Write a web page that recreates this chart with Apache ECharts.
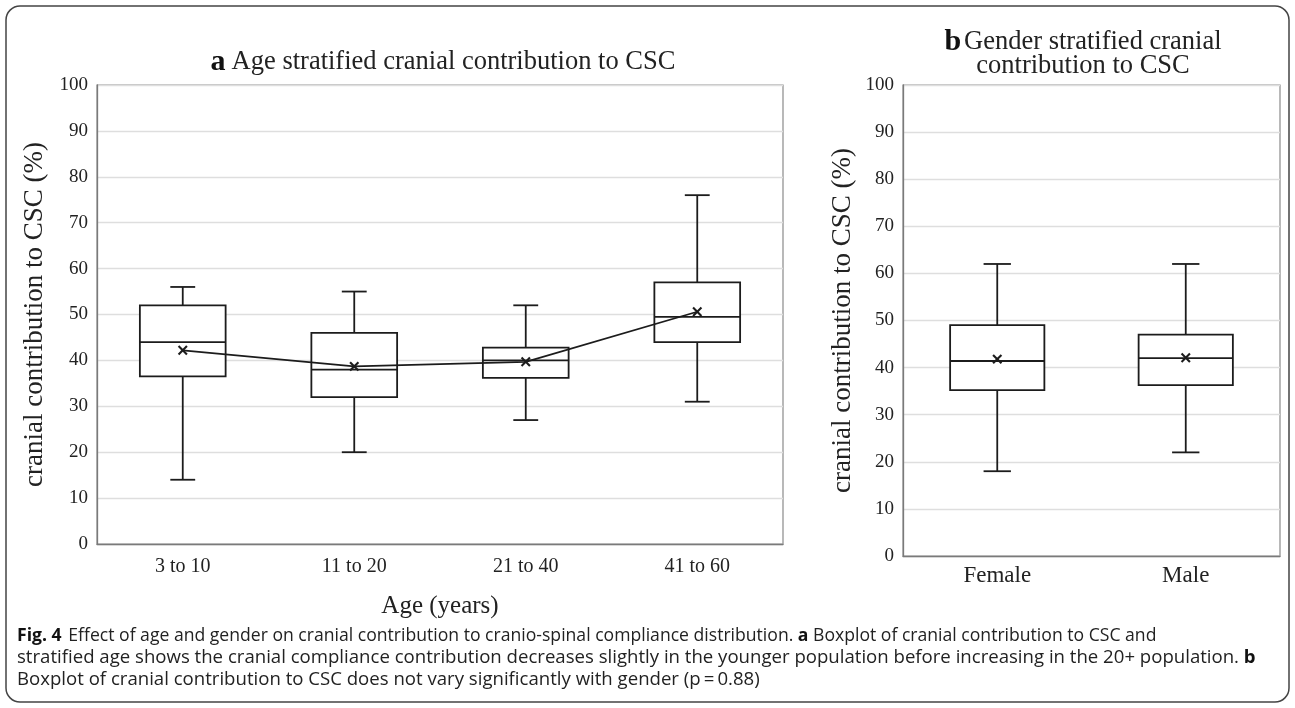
<!DOCTYPE html>
<html><head><meta charset="utf-8">
<script src="https://cdn.jsdelivr.net/npm/echarts@6/dist/echarts.min.js"></script>
<style>html,body{margin:0;padding:0;background:#fff}#c{width:1295px;height:708px}</style>
</head><body><div id="c"></div>
<script>
// ---- data ----
const ageCategories = ['3 to 10', '11 to 20', '21 to 40', '41 to 60'];
const ageMin    = [14, 20, 27, 31];
const ageQ1     = [36.5, 32, 36.2, 44];
const ageMedian = [44, 38, 40, 49.5];
const ageQ3     = [52, 46, 42.8, 57];
const ageMax    = [56, 55, 52, 76];
const ageMean   = [42.2, 38.7, 39.7, 50.6];

const genderCategories = ['Female', 'Male'];
const genderMin    = [18, 22];
const genderQ1     = [35.2, 36.3];
const genderMedian = [41.4, 42];
const genderQ3     = [49, 47];
const genderMax    = [62, 62];
const genderMean   = [41.8, 42.1];

const yMin = 0, yMax = 100, yStep = 10;

// ---- build ----
function rows(mins, q1, med, q3, max, mean) {
  return mins.map((v, i) => [i, v, q1[i], med[i], q3[i], max[i], mean[i]]);
}
const INK = '#1c1c1c';
function renderBox(params, api) {
  const x = api.value(0);
  const lo = api.coord([x, api.value(1)]);
  const q1 = api.coord([x, api.value(2)]);
  const md = api.coord([x, api.value(3)]);
  const q3 = api.coord([x, api.value(4)]);
  const hi = api.coord([x, api.value(5)]);
  const mn = api.coord([x, api.value(6)]);
  const band = api.size([1, 0])[0];
  const bw = band * 0.5, hw = bw / 2, cw = bw * 0.145;
  const cx = lo[0];
  const st = { stroke: INK, lineWidth: 1.8 };
  const ms = 4.2;
  return { type: 'group', children: [
    { type: 'line', shape: { x1: cx, y1: hi[1], x2: cx, y2: q3[1] }, style: st },
    { type: 'line', shape: { x1: cx, y1: q1[1], x2: cx, y2: lo[1] }, style: st },
    { type: 'line', shape: { x1: cx - cw, y1: hi[1], x2: cx + cw, y2: hi[1] }, style: st },
    { type: 'line', shape: { x1: cx - cw, y1: lo[1], x2: cx + cw, y2: lo[1] }, style: st },
    { type: 'rect', shape: { x: cx - hw, y: q3[1], width: bw, height: q1[1] - q3[1] }, style: { stroke: INK, lineWidth: 1.8, fill: '#fff' } },
    { type: 'line', shape: { x1: cx - hw, y1: md[1], x2: cx + hw, y2: md[1] }, style: st },
    { type: 'line', z2: 10, shape: { x1: mn[0] - ms, y1: mn[1] - ms, x2: mn[0] + ms, y2: mn[1] + ms }, style: { stroke: INK, lineWidth: 2.1 } },
    { type: 'line', z2: 10, shape: { x1: mn[0] - ms, y1: mn[1] + ms, x2: mn[0] + ms, y2: mn[1] - ms }, style: { stroke: INK, lineWidth: 2.1 } }
  ]};
}
const SERIF = '"Liberation Serif", "Times New Roman", serif';
const SANS = '"Open Sans", "Noto Sans", sans-serif';
function xAx(idx, data, fs, margin, name) {
  return {
    type: 'category', gridIndex: idx, data: data,
    axisLine: { show: true, lineStyle: { color: '#7a7a7a', width: 1.3 } },
    axisTick: { show: false },
    axisLabel: { fontFamily: SERIF, fontSize: fs, color: '#222', margin: margin },
    name: name, nameLocation: 'middle', nameGap: 50,
    nameTextStyle: { fontFamily: SERIF, fontSize: 25, color: '#222' }
  };
}
function yAx(idx, gap) {
  return {
    type: 'value', gridIndex: idx, min: yMin, max: yMax, interval: yStep,
    axisLine: { show: true, lineStyle: { color: '#7a7a7a', width: 1.3 } },
    axisTick: { show: false },
    splitLine: { lineStyle: { color: '#dedede', width: 1.3 } },
    axisLabel: { fontFamily: SERIF, fontSize: 19, color: '#222', margin: 9 },
    name: 'cranial contribution to CSC (%)', nameLocation: 'middle', nameGap: gap,
    nameTextStyle: { fontFamily: SERIF, fontSize: 27, color: '#222' }
  };
}
function capRich(fs) {
  return {
    b: { fontFamily: SANS, fontWeight: 'bold', fontSize: fs, fill: '#111' },
    n: { fontFamily: SANS, fontSize: fs, fill: '#222' }
  };
}
const chart = echarts.init(document.getElementById('c'));
chart.setOption({
  animation: false,
  backgroundColor: '#fff',
  grid: [
    { left: 97, top: 85, width: 686, height: 459, show: true, borderColor: '#8a8a8a', borderWidth: 1.2 },
    { left: 903, top: 85, width: 377, height: 471, show: true, borderColor: '#8a8a8a', borderWidth: 1.2 }
  ],
  xAxis: [ xAx(0, ageCategories, 20, 13, 'Age (years)'), xAx(1, genderCategories, 23, 8, '') ],
  yAxis: [ yAx(0, 41), yAx(1, 47) ],
  series: [
    { type: 'custom', xAxisIndex: 0, yAxisIndex: 0, renderItem: renderBox,
      encode: { x: 0, y: [1, 2, 3, 4, 5, 6] },
      data: rows(ageMin, ageQ1, ageMedian, ageQ3, ageMax, ageMean) },
    { type: 'line', xAxisIndex: 0, yAxisIndex: 0, z: 5, data: ageMean, symbol: 'none',
      lineStyle: { color: INK, width: 1.8 } },
    { type: 'custom', xAxisIndex: 1, yAxisIndex: 1, renderItem: renderBox,
      encode: { x: 0, y: [1, 2, 3, 4, 5, 6] },
      data: rows(genderMin, genderQ1, genderMedian, genderQ3, genderMax, genderMean) }
  ],
  graphic: [
    { type: 'rect', shape: { x: 6, y: 6, width: 1283, height: 696, r: 14 },
      style: { fill: 'none', stroke: '#444', lineWidth: 1.5 }, silent: true },
    { type: 'text', x: 443, y: 62, style: {
      text: '{b|a}{n|Age stratified cranial contribution to CSC}', align: 'center', verticalAlign: 'middle',
      rich: { b: { fontFamily: SERIF, fontWeight: 'bold', fontSize: 30, fill: '#111', padding: [0, 6, 0, 0] }, n: { fontFamily: SERIF, fontSize: 26.5, fill: '#222' } } } },
    { type: 'text', x: 1083, y: 42, style: {
      text: '{b|b}{n|Gender stratified cranial}', align: 'center', verticalAlign: 'middle',
      rich: { b: { fontFamily: SERIF, fontWeight: 'bold', fontSize: 30, fill: '#111', padding: [0, 3, 0, 0] }, n: { fontFamily: SERIF, fontSize: 26.5, fill: '#222' } } } },
    { type: 'text', x: 1083, y: 66, style: {
      text: 'contribution to CSC', align: 'center', verticalAlign: 'middle',
      font: '26.5px ' + SERIF, fill: '#222' } },
    { type: 'text', x: 17, y: 636, style: {
      text: '{b|Fig. 4}  {n|Effect of age and gender on cranial contribution to cranio-spinal compliance distribution. }{b|a}{n| Boxplot of cranial contribution to CSC and}',
      verticalAlign: 'middle', rich: capRich(17.6) } },
    { type: 'text', x: 17, y: 658, style: {
      text: '{n|stratified age shows the cranial compliance contribution decreases slightly in the younger population before increasing in the 20+ population. }{b|b}',
      verticalAlign: 'middle', rich: capRich(18.6) } },
    { type: 'text', x: 17, y: 680, style: {
      text: 'Boxplot of cranial contribution to CSC does not vary significantly with gender (p\u2009=\u20090.88)',
      verticalAlign: 'middle', font: '18.6px ' + SANS, fill: '#222' } }
  ]
});
</script>
</body></html>
